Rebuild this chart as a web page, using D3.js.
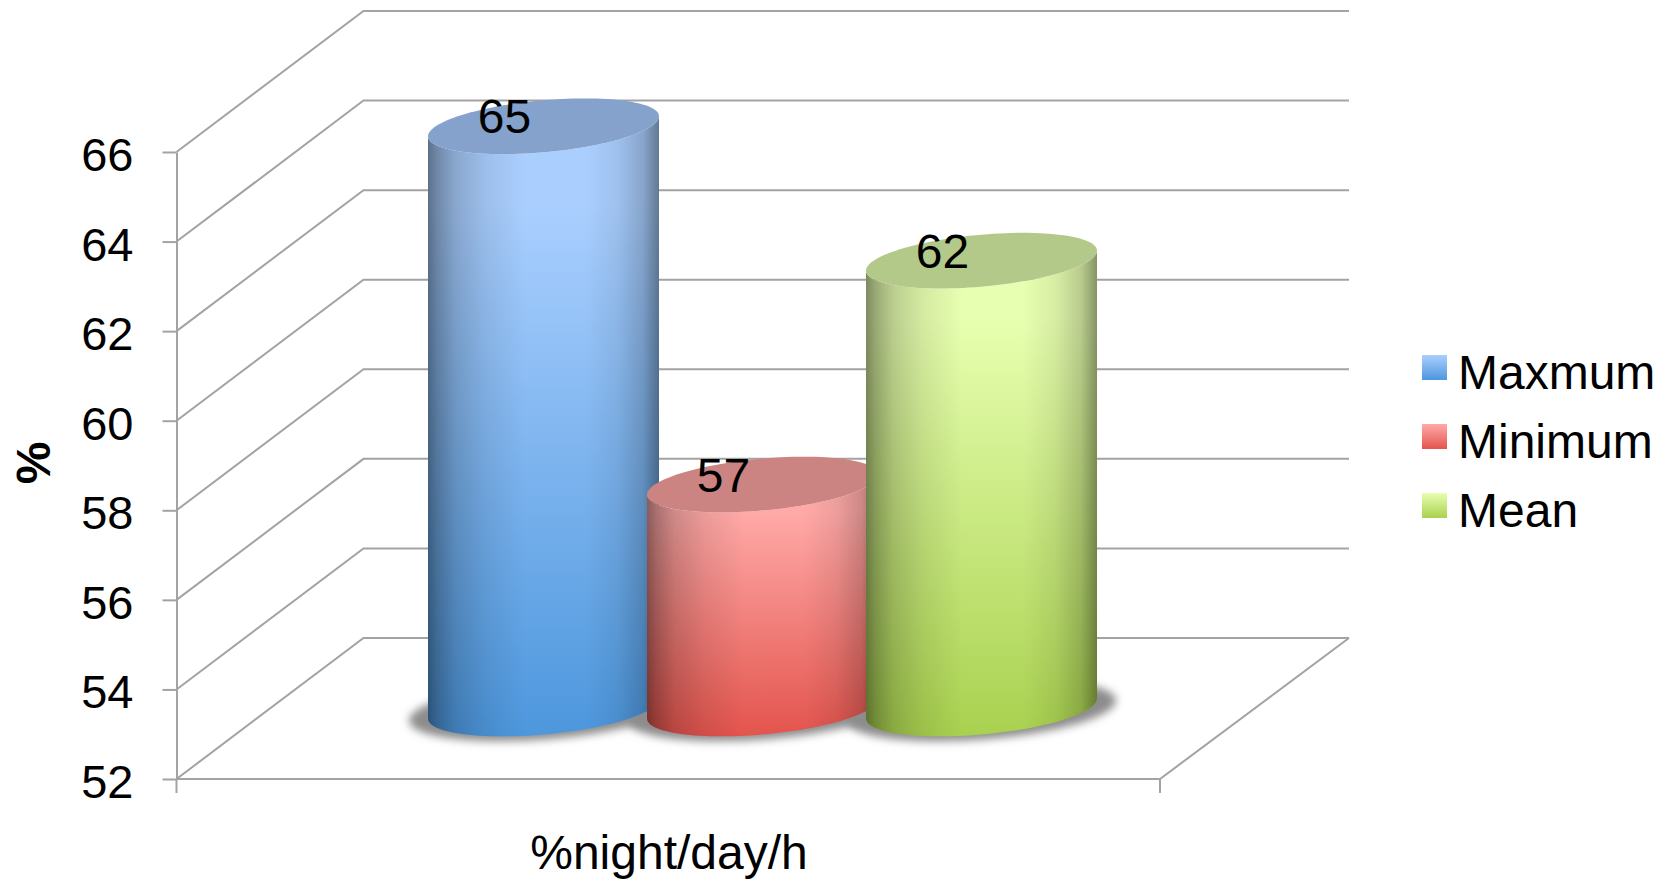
<!DOCTYPE html>
<html>
<head>
<meta charset="utf-8">
<script src="https://cdn.jsdelivr.net/npm/d3@7/dist/d3.min.js"></script>
<style>
  html, body { margin: 0; padding: 0; background: #fff; }
  svg { display: block; }
  text { font-family: "Liberation Sans", Arial, sans-serif; fill: #000; }
</style>
</head>
<body>
<svg id="chart" width="1670" height="879"></svg>
<script>
// Chart data
const seriesNames = ["Maxmum", "Minimum", "Mean"];
const seriesValues = [65, 57, 62];
const yTicks = [52, 54, 56, 58, 60, 62, 64, 66];
const xTitle = "%night/day/h";
const yTitle = "%";

// Series colours: cap, light end and dark end of the body gradient
const capColors = ["#84a2cb", "#cc8482", "#b3c98a"];
const lightColors = ["#aacfff", "#ffaaa8", "#e7ffb0"];
const darkColors = ["#4d97dd", "#e3544d", "#a9d14f"];

const grid = "#a3a3a3";
const fontSize = 48;

// Oblique projection of the chart box
const front = { left: 176.5, right: 1160, bottom: 779, top: 152 };
const depth = { x: 187, y: 141 };

// Cylinders stand on the mid-depth plane of the floor
const midX = depth.x / 2, midY = depth.y / 2;
const radiusX = 115.5, radiusY = 26, skew = 10;

const y = d3.scaleLinear().domain([52, 66]).range([front.bottom, front.top]);
const x = d3.scalePoint().domain(seriesNames)
  .range([450, 888].map(d => d + midX));

const svg = d3.select("#chart");
const defs = svg.append("defs");

defs.append("filter").attr("id", "soft")
  .attr("x", "-20%").attr("y", "-50%").attr("width", "140%").attr("height", "200%")
  .append("feGaussianBlur").attr("stdDeviation", 4);

seriesNames.forEach((name, i) => {
  const body = defs.append("linearGradient").attr("id", "body" + i)
    .attr("x1", 0).attr("x2", 0).attr("y1", 0).attr("y2", 1);
  body.append("stop").attr("offset", 0).attr("stop-color", lightColors[i]);
  body.append("stop").attr("offset", .14).attr("stop-color", lightColors[i]);
  body.append("stop").attr("offset", 1).attr("stop-color", darkColors[i]);
});

// Side shading that gives the bodies their round look
const side = defs.append("linearGradient").attr("id", "side");
[[0, .46], [.04, .34], [.12, .19], [.25, .08], [.42, 0], [.68, 0], [.82, .07], [.93, .2], [1, .42]]
  .forEach(([o, a]) => side.append("stop").attr("offset", o)
    .attr("stop-color", "#000").attr("stop-opacity", a));

// Legend swatches use a vertical gradient only
seriesNames.forEach((name, i) => {
  const g = defs.append("linearGradient").attr("id", "swatch" + i)
    .attr("x1", 0).attr("x2", 0).attr("y1", 0).attr("y2", 1);
  g.append("stop").attr("offset", 0).attr("stop-color", lightColors[i]);
  g.append("stop").attr("offset", 1).attr("stop-color", darkColors[i]);
});

// Gridlines run along the side wall and then across the back wall
const wall = d3.line();
svg.append("g").selectAll("path").data(yTicks).join("path")
  .attr("d", v => wall([
    [front.left, y(v)],
    [front.left + depth.x, y(v) - depth.y],
    [front.left + depth.x + 985.5, y(v) - depth.y]
  ]))
  .attr("fill", "none").attr("stroke", grid).attr("stroke-width", 2);

// Floor edges
svg.append("path")
  .attr("d", wall([
    [front.left + depth.x + 985.5, y(52) - depth.y],
    [front.right, y(52)],
    [front.left, y(52)]
  ]))
  .attr("fill", "none").attr("stroke", grid).attr("stroke-width", 2);

// Category axis end ticks
svg.append("g").selectAll("line").data([front.left, front.right]).join("line")
  .attr("x1", d => d).attr("x2", d => d)
  .attr("y1", y(52)).attr("y2", y(52) + 14)
  .attr("stroke", grid).attr("stroke-width", 2);

// Value axis
const axis = d3.axisLeft(y).tickValues(yTicks).tickSize(14).tickSizeOuter(0).tickPadding(29);
const axisG = svg.append("g").attr("transform", `translate(${front.left},0)`).call(axis);
axisG.select(".domain").attr("stroke", grid).attr("stroke-width", 2);
axisG.selectAll(".tick line").attr("stroke", grid).attr("stroke-width", 2);
axisG.selectAll(".tick text")
  .attr("dy", 18.5)
  .style("font-family", '"Liberation Sans", Arial, sans-serif')
  .style("font-size", "47px");

// Point on the skewed ellipse that outlines a cylinder section
const rim = (cx, cy, t, rx = radiusX, ry = radiusY) =>
  [cx + rx * Math.cos(t), cy + ry * Math.sin(t) - skew * Math.cos(t)];

const closed = d3.line().curve(d3.curveLinearClosed);
const turn = d3.range(0, 120).map(k => k / 120 * 2 * Math.PI);
const half = d3.range(0, 61).map(k => k / 60 * Math.PI);

const baseY = y(52) - midY;

// Contact shadows on the floor
svg.append("g").selectAll("path").data(seriesNames).join("path")
  .attr("d", name => closed(turn.map(t => rim(x(name), baseY + 2, t, radiusX + 19, radiusY + 3))))
  .attr("fill", "#8c8c8c")
  .attr("filter", "url(#soft)");

// Cylinders, drawn left to right so each one overlaps the previous
const bars = svg.append("g").selectAll("g")
  .data(seriesNames.map((name, i) => ({ name, value: seriesValues[i], i })))
  .join("g");

const bodyPath = d => {
  const cx = x(d.name), topY = y(d.value) - midY;
  // Right edge at the top, down to the front of the base, back up the left edge
  const bottom = half.map(t => rim(cx, baseY, t));
  const upper = half.slice().reverse().map(t => rim(cx, topY, t));
  return closed(bottom.concat(upper));
};

bars.append("path").attr("d", bodyPath).attr("fill", d => `url(#body${d.i})`);
bars.append("path").attr("d", bodyPath).attr("fill", "url(#side)");
bars.append("path")
  .attr("d", d => closed(turn.map(t => rim(x(d.name), y(d.value) - midY, t))))
  .attr("fill", d => capColors[d.i]);

// Value labels sit on the caps
bars.append("text")
  .attr("x", d => x(d.name) - 39)
  .attr("y", d => y(d.value) - midY + 7)
  .attr("text-anchor", "middle")
  .attr("font-size", fontSize)
  .text(d => d.value);

// Axis titles
svg.append("text")
  .attr("x", 669).attr("y", 869)
  .attr("text-anchor", "middle")
  .attr("font-size", fontSize)
  .text(xTitle);

svg.append("text")
  .attr("transform", "translate(50,463) rotate(-90)")
  .attr("text-anchor", "middle")
  .attr("font-size", fontSize)
  .attr("font-weight", "bold")
  .text(yTitle);

// Legend
const legendRow = d3.scalePoint().domain(seriesNames).range([355, 493]);
const legend = svg.append("g").selectAll("g").data(seriesNames).join("g")
  .attr("transform", d => `translate(1422,${legendRow(d)})`);
legend.append("rect")
  .attr("width", 25).attr("height", 25)
  .attr("fill", (d, i) => `url(#swatch${i})`);
legend.append("text")
  .attr("x", 36).attr("y", 34)
  .attr("font-size", fontSize)
  .text(d => d);
</script>
</body>
</html>
